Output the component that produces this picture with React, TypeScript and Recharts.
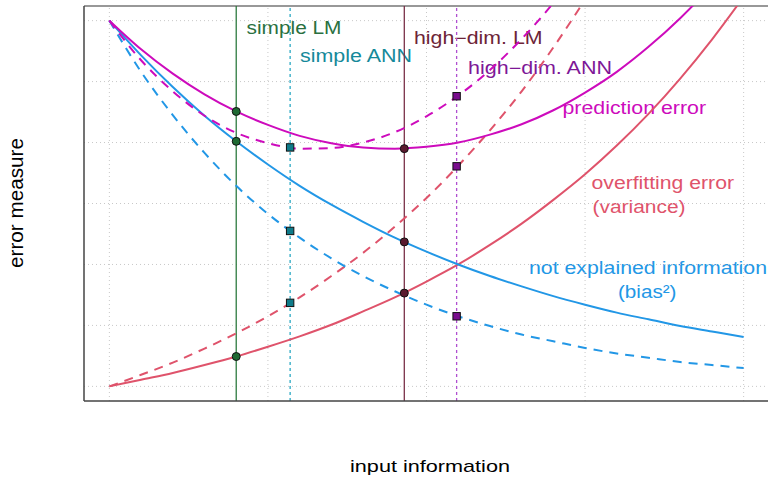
import React from 'react';
import {
  ComposedChart,
  Line,
  Scatter,
  XAxis,
  YAxis,
  ReferenceLine,
  Customized,
} from 'recharts';

// ---- data ----
const inputInfo = [0, 0.2, 0.4, 0.6, 0.8, 1.0, 1.2, 1.4, 1.6, 1.8, 2.0, 2.2, 2.4, 2.6, 2.8, 3.0, 3.2, 3.4, 3.6, 3.8, 4.0];
// simple models (LM): solid curves
const biasLM = [6.0, 5.43, 4.91, 4.44, 4.02, 3.64, 3.29, 2.98, 2.7, 2.44, 2.21, 2.0, 1.81, 1.64, 1.48, 1.34, 1.21, 1.1, 0.99, 0.9, 0.81];
const varianceLM = [0, 0.11, 0.22, 0.35, 0.49, 0.65, 0.82, 1.01, 1.23, 1.46, 1.72, 2.0, 2.32, 2.67, 3.06, 3.48, 3.95, 4.47, 5.05, 5.69, 6.39];
const predErrLM = [6.0, 5.53, 5.13, 4.79, 4.51, 4.29, 4.11, 3.99, 3.92, 3.9, 3.93, 4.0, 4.13, 4.3, 4.53, 4.82, 5.16, 5.57, 6.04, 6.58, 7.2];
// flexible models (ANN): dashed curves
const biasANN = [6.0, 5.16, 4.45, 3.83, 3.29, 2.83, 2.44, 2.1, 1.81, 1.56, 1.34, 1.15, 0.99, 0.85, 0.74, 0.63, 0.54, 0.47, 0.4, 0.35, 0.3];
const varianceANN = [0, 0.19, 0.39, 0.62, 0.87, 1.15, 1.46, 1.81, 2.19, 2.62, 3.09, 3.62, 4.2, 4.84, 5.56, 6.35, 7.23, 8.21, 9.3, 10.5, 11.84];
const predErrANN = [6.0, 5.35, 4.84, 4.44, 4.16, 3.99, 3.9, 3.91, 4.0, 4.17, 4.43, 4.77, 5.19, 5.7, 6.29, 6.98, 7.78, 8.68, 9.7, 10.85, 12.14];

// model positions on the input-information axis
const simpleLMx = 0.8;
const simpleANNx = 1.14;
const highLMx = 1.86;
const highANNx = 2.19;

// marker values (prediction error, bias², variance)
const simpleLMvals = [4.51, 4.02, 0.49];
const simpleANNvals = [3.92, 2.55, 1.37];
const highLMvals = [3.9, 2.37, 1.53];
const highANNvals = [4.76, 1.15, 3.61];

const gridXTicks = [0, 1, 2, 3, 4];
const gridYTicks = [0, 1, 2, 3, 4, 5, 6];

const data = inputInfo.map((x, i) => ({
  x,
  biasLM: biasLM[i],
  varianceLM: varianceLM[i],
  predErrLM: predErrLM[i],
  biasANN: biasANN[i],
  varianceANN: varianceANN[i],
  predErrANN: predErrANN[i],
}));

const toPts = (x: number, vals: number[]) => vals.map((y) => ({ x, y }));

const BLUE = '#2297E6';
const RED = '#DF536B';
const MAGENTA = '#CD0BBC';
const GRID = '#c8c8c8';

const FONT = "'Liberation Sans', Arial, Helvetica, sans-serif";

const labels = [
  { text: 'simple LM', x: 246.5, y: 34, len: 95, color: '#2A7040' },
  { text: 'simple ANN', x: 300, y: 62, len: 112, color: '#15899A' },
  { text: 'high\u2212dim. LM', x: 414, y: 44, len: 128.5, color: '#6D2437' },
  { text: 'high\u2212dim. ANN', x: 468, y: 74, len: 144, color: '#7E1797' },
  { text: 'prediction error', x: 562.5, y: 114, len: 143.5, color: MAGENTA },
  { text: 'overfitting error', x: 591.5, y: 189, len: 142.5, color: RED },
  { text: '(variance)', x: 592.5, y: 213, len: 93, color: RED },
  { text: 'not explained information', x: 529, y: 274, len: 238, color: BLUE },
  { text: '(bias\u00B2)', x: 618, y: 298, len: 58.5, color: BLUE },
];

const Annotations = () => (
  <g>
    {labels.map((l) => (
      <text
        key={l.text}
        x={l.x}
        y={l.y}
        fill={l.color}
        fontFamily={FONT}
        fontSize={17.5}
        textLength={l.len}
        lengthAdjust="spacingAndGlyphs"
      >
        {l.text}
      </text>
    ))}
    <text
      x={430}
      y={472}
      textAnchor="middle"
      fill="#000"
      fontFamily={FONT}
      fontSize={17}
      textLength={160}
      lengthAdjust="spacingAndGlyphs"
    >
      input information
    </text>
    <text
      x={23}
      y={203}
      textAnchor="middle"
      transform="rotate(-90 23 203)"
      fill="#000"
      fontFamily={FONT}
      fontSize={21}
      textLength={130}
      lengthAdjust="spacingAndGlyphs"
    >
      error measure
    </text>
  </g>
);

const circleShape = (fill: string) => (props: any) => (
  <circle cx={props.cx} cy={props.cy} r={4} fill={fill} stroke="#111" strokeWidth={1} />
);
const squareShape = (fill: string) => (props: any) => (
  <rect x={props.cx - 3.7} y={props.cy - 3.7} width={7.4} height={7.4} fill={fill} stroke="#111" strokeWidth={1} />
);

export default function App() {
  return (
    <div style={{ position: 'absolute', left: 0, top: 0, width: 768, height: 477, overflow: 'hidden', background: '#fff' }}>
      <ComposedChart
        width={790}
        height={477}
        data={data}
        margin={{ top: 6, right: 21, bottom: 0, left: 0 }}
      >
        <XAxis
          dataKey="x"
          type="number"
          domain={[-0.16, 4.16]}
          ticks={gridXTicks}
          allowDataOverflow
          tick={false}
          tickLine={false}
          height={76}
          axisLine={{ stroke: '#444', strokeWidth: 1.5 }}
        />
        <YAxis
          type="number"
          domain={[-0.24, 6.24]}
          ticks={gridYTicks}
          allowDataOverflow
          tick={false}
          tickLine={false}
          width={84}
          axisLine={{ stroke: '#444', strokeWidth: 1.5 }}
        />

        {gridXTicks.map((t) => (
          <ReferenceLine key={'gx' + t} x={t} stroke={GRID} strokeWidth={1} strokeDasharray="1 3" />
        ))}
        {gridYTicks.map((t) => (
          <ReferenceLine key={'gy' + t} y={t} stroke={GRID} strokeWidth={1} strokeDasharray="1 3" />
        ))}

        <ReferenceLine y={6.24} stroke="#333" strokeWidth={1.2} />

        <ReferenceLine x={simpleLMx} stroke="#2C7A3F" strokeWidth={1.3} />
        <ReferenceLine x={simpleANNx} stroke="#2BA9C4" strokeWidth={1.3} strokeDasharray="3 3" />
        <ReferenceLine x={highLMx} stroke="#7A3148" strokeWidth={1.3} />
        <ReferenceLine x={highANNx} stroke="#B04FD0" strokeWidth={1.3} strokeDasharray="3 3" />

        <Line type="monotone" dataKey="varianceLM" stroke={RED} strokeWidth={2} dot={false} isAnimationActive={false} />
        <Line type="monotone" dataKey="varianceANN" stroke={RED} strokeWidth={2} strokeDasharray="9 7" dot={false} isAnimationActive={false} />
        <Line type="monotone" dataKey="biasLM" stroke={BLUE} strokeWidth={2} dot={false} isAnimationActive={false} />
        <Line type="monotone" dataKey="biasANN" stroke={BLUE} strokeWidth={2} strokeDasharray="9 7" dot={false} isAnimationActive={false} />
        <Line type="monotone" dataKey="predErrLM" stroke={MAGENTA} strokeWidth={2} dot={false} isAnimationActive={false} />
        <Line type="monotone" dataKey="predErrANN" stroke={MAGENTA} strokeWidth={2} strokeDasharray="9 7" dot={false} isAnimationActive={false} />

        <Scatter data={toPts(simpleLMx, simpleLMvals)} dataKey="y" shape={circleShape('#1F6A33')} isAnimationActive={false} />
        <Scatter data={toPts(simpleANNx, simpleANNvals)} dataKey="y" shape={squareShape('#0E7B8A')} isAnimationActive={false} />
        <Scatter data={toPts(highLMx, highLMvals)} dataKey="y" shape={circleShape('#5A1A2E')} isAnimationActive={false} />
        <Scatter data={toPts(highANNx, highANNvals)} dataKey="y" shape={squareShape('#7A0D8E')} isAnimationActive={false} />

        <Customized component={Annotations} />
      </ComposedChart>
    </div>
  );
}
